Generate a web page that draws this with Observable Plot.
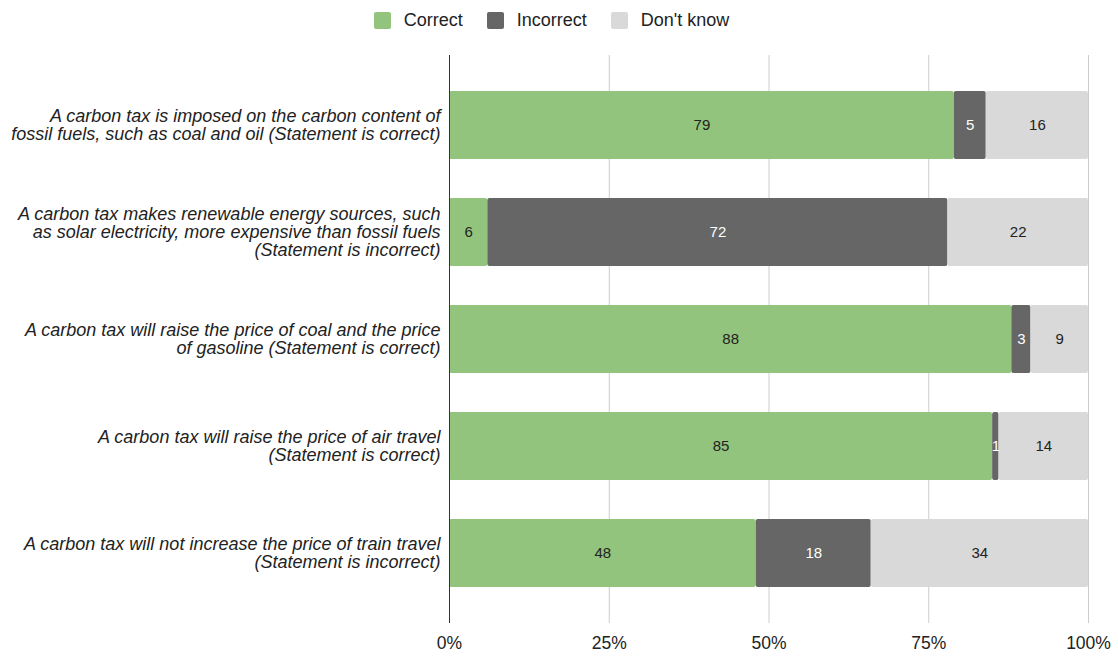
<!DOCTYPE html>
<html>
<head>
<meta charset="utf-8">
<script src="https://cdn.jsdelivr.net/npm/d3@7"></script>
<script src="https://cdn.jsdelivr.net/npm/@observablehq/plot@0.6"></script>
<style>
  html, body { margin: 0; padding: 0; background: #fff; }
  body { width: 1118px; height: 657px; overflow: hidden; font-family: "Liberation Sans", Arial, sans-serif; }
  #legend { height: 40px; display: flex; align-items: center; justify-content: center; padding-right: 15px; box-sizing: border-box; font-size: 18px; color: #222; }
  .item { display: flex; align-items: center; margin: 0 12px; }
  .sw { width: 17px; height: 17px; border-radius: 2px; margin-right: 13px; }
  #chart svg { display: block; }
</style>
</head>
<body>
<div id="legend"></div>
<div id="chart"></div>
<script>
const categories = [
  "A carbon tax is imposed on the carbon content of\nfossil fuels, such as coal and oil (Statement is correct)",
  "A carbon tax makes renewable energy sources, such\nas solar electricity, more expensive than fossil fuels\n(Statement is incorrect)",
  "A carbon tax will raise the price of coal and the price\nof gasoline (Statement is correct)",
  "A carbon tax will raise the price of air travel\n(Statement is correct)",
  "A carbon tax will not increase the price of train travel\n(Statement is incorrect)"
];
const responses = ["Correct", "Incorrect", "Don't know"];
const correct   = [79, 6, 88, 85, 48];
const incorrect = [5, 72, 3, 1, 18];
const dontKnow  = [16, 22, 9, 14, 34];
const colors = ["#93c47d", "#666666", "#d9d9d9"];
const xTicks = [0, 25, 50, 75, 100];

const series = [correct, incorrect, dontKnow];
const data = [];
categories.forEach((q, i) => {
  responses.forEach((r, j) => data.push({question: q, response: r, value: series[j][i]}));
});

// legend
const legend = document.getElementById("legend");
responses.forEach((r, j) => {
  const it = document.createElement("div");
  it.className = "item";
  it.innerHTML = `<div class="sw" style="background:${colors[j]}"></div><span>${r}</span>`;
  legend.appendChild(it);
});

const chart = Plot.plot({
  width: 1118,
  height: 617,
  marginLeft: 449,
  marginRight: 30,
  marginTop: 15,
  marginBottom: 34,
  style: {fontFamily: "'Liberation Sans', Arial, sans-serif", fontSize: "16px", background: "#fff", color: "#222"},
  x: {domain: [0, 100], ticks: xTicks},
  y: {domain: categories, paddingInner: 0.364, paddingOuter: 0.336},
  color: {domain: responses, range: colors},
  marks: [
    Plot.gridX(xTicks, {stroke: "#cccccc", strokeOpacity: 1}),
    Plot.barX(data, Plot.stackX({x: "value", y: "question", fill: "response", order: responses, rx: 2})),
    Plot.text(data, Plot.stackX({
      x: "value", y: "question", z: "response", order: responses,
      text: d => String(d.value),
      fill: d => d.response === "Incorrect" ? "#fff" : "#222",
      fontSize: 15
    })),
    Plot.ruleX([0], {stroke: "#333"}),
    Plot.axisX(xTicks, {tickSize: 0, tickPadding: 13, fontSize: 17.5, tickFormat: d => d + "%", label: null, fill: "#222"}),
    Plot.axisY({tickSize: 0, tickPadding: 9, fontSize: 18, fontStyle: "italic", lineHeight: 1, label: null, fill: "#222"})
  ]
});
document.getElementById("chart").appendChild(chart);
</script>
</body>
</html>
